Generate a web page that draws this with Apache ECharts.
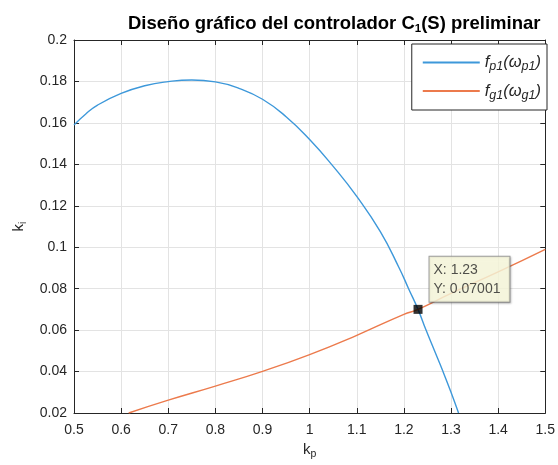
<!DOCTYPE html>
<html>
<head>
<meta charset="utf-8">
<script src="https://cdn.jsdelivr.net/npm/echarts@6/dist/echarts.min.js"></script>
<style>
  html, body { margin: 0; padding: 0; background: #ffffff; }
  #chart { width: 558px; height: 465px; }
</style>
</head>
<body>
<div id="chart"></div>
<script>
// f_p1(w_p1): k_i as a function of k_p on the phase condition
const fp1 = [
  [0.5, 0.1590], [0.525, 0.1643], [0.55, 0.1686], [0.6, 0.1742],
  [0.65, 0.1779], [0.7, 0.1799], [0.75, 0.1807], [0.8, 0.1798],
  [0.85, 0.1767], [0.9, 0.1714], [0.95, 0.1630], [1.0, 0.1520],
  [1.05, 0.1390], [1.1, 0.1245], [1.15, 0.1075],
  [1.19, 0.0900], [1.21, 0.0800], [1.23, 0.07001], [1.247, 0.0600],
  [1.265, 0.0500], [1.283, 0.0400], [1.30, 0.0300], [1.316, 0.0200]
];

// f_g1(w_g1): k_i as a function of k_p on the gain condition
const fg1 = [
  [0.616, 0.0200], [0.7, 0.0262], [0.8, 0.0330], [0.9, 0.0401],
  [1.0, 0.0482], [1.1, 0.0575], [1.2, 0.0676], [1.23, 0.07001],
  [1.3, 0.0777], [1.4, 0.0881], [1.5, 0.0990]
];

// intersection point shown with its data tip
const tipX = 1.23;
const tipY = 0.07001;

const xMin = 0.5, xMax = 1.5, xStep = 0.1;
const yMin = 0.02, yMax = 0.2, yStep = 0.02;

const FONT = '"Liberation Sans", Arial, Helvetica, sans-serif';
const INK = '#262626';
const GRIDC = '#e3e3e3';
const BLUE = '#3d98da';
const ORANGE = '#ec7a4c';

const chart = echarts.init(document.getElementById('chart'), null, { renderer: 'canvas' });

const boxAxis = (pos, showLabel) => ({
  type: 'value',
  position: pos,
  axisLine: { show: true, onZero: false, lineStyle: { color: INK, width: 1 } },
  axisTick: { show: true, inside: true, length: 5, lineStyle: { color: INK } },
  axisLabel: {
    show: showLabel, color: INK, fontFamily: FONT, fontSize: 14, margin: pos === 'bottom' ? 10 : 7
  },
  splitLine: { show: showLabel, lineStyle: { color: GRIDC, width: 1 } }
});

const option = {
  backgroundColor: '#ffffff',
  animation: false,
  title: {
    text: '{t|Diseño gráfico del controlador C}{s|1}{t|(S) preliminar}',
    left: 123,
    top: 8,
    textStyle: {
      rich: {
        t: { fontFamily: FONT, fontSize: 18.5, fontWeight: 'bold', color: '#000', lineHeight: 21 },
        s: { fontFamily: FONT, fontSize: 11.5, fontWeight: 'bold', color: '#000', padding: [10, 0, 0, 0] }
      }
    }
  },
  grid: { left: 74, right: 9, top: 40, bottom: 52, containLabel: false },
  xAxis: [
    Object.assign(boxAxis('bottom', true), {
      min: xMin, max: xMax, interval: xStep,
      name: '{k|k}{s|p}',
      nameLocation: 'middle',
      nameGap: 23,
      nameTextStyle: {
        rich: {
          k: { fontFamily: FONT, fontSize: 15, color: INK, lineHeight: 17 },
          s: { fontFamily: FONT, fontSize: 10.5, color: INK, padding: [9, 0, 0, 0] }
        }
      }
    }),
    Object.assign(boxAxis('top', false), { min: xMin, max: xMax, interval: xStep })
  ],
  yAxis: [
    Object.assign(boxAxis('left', true), {
      min: yMin, max: yMax, interval: yStep,
      name: '{k|k}{s|i}',
      nameLocation: 'middle',
      nameGap: 43,
      nameRotate: 90,
      nameTextStyle: {
        rich: {
          k: { fontFamily: FONT, fontSize: 15, color: INK, lineHeight: 17 },
          s: { fontFamily: FONT, fontSize: 10.5, color: INK, padding: [9, 0, 0, 0] }
        }
      }
    }),
    Object.assign(boxAxis('right', false), { min: yMin, max: yMax, interval: yStep })
  ],
  legend: {
    orient: 'vertical',
    right: 11,
    top: 44,
    padding: [10, 6, 8, 11],
    itemGap: 9,
    itemWidth: 57,
    itemHeight: 2,
    icon: 'rect',
    backgroundColor: '#ffffff',
    borderColor: INK,
    borderWidth: 1,
    selectedMode: false,
    data: ['fp1', 'fg1'],
    formatter: function (name) {
      const sub = name === 'fp1' ? 'p1' : 'g1';
      return '{f|f}{s|' + sub + '}{f|(ω}{s|' + sub + '}{f|)}';
    },
    textStyle: {
      rich: {
        f: { fontFamily: FONT, fontSize: 16.5, fontStyle: 'italic', color: INK, lineHeight: 20 },
        s: { fontFamily: FONT, fontSize: 12.5, fontStyle: 'italic', color: INK, padding: [9, 0, 0, 0] }
      }
    }
  },
  series: [
    {
      name: 'fp1',
      type: 'line',
      data: fp1,
      smooth: true,
      showSymbol: false,
      symbol: 'none',
      color: BLUE,
      lineStyle: { color: BLUE, width: 1.4 },
      z: 2
    },
    {
      name: 'fg1',
      type: 'line',
      data: fg1,
      smooth: true,
      showSymbol: false,
      symbol: 'none',
      color: ORANGE,
      lineStyle: { color: ORANGE, width: 1.4 },
      z: 2
    },
    {
      name: 'tip',
      type: 'scatter',
      data: [[tipX, tipY]],
      symbol: 'rect',
      symbolSize: 9,
      itemStyle: { color: '#000000' },
      z: 5,
      label: {
        show: true,
        position: [16, -48],
        align: 'left',
        verticalAlign: 'top',
        formatter: function (p) {
          return 'X: ' + p.value[0] + '\nY: ' + p.value[1].toFixed(5);
        },
        fontFamily: FONT,
        fontSize: 14,
        lineHeight: 19,
        color: INK,
        backgroundColor: '#ffffe1',
        borderColor: '#8a8a8a',
        borderWidth: 1,
        padding: [4, 9, 3, 4],
        shadowColor: 'rgba(0,0,0,0.25)',
        shadowBlur: 2,
        shadowOffsetX: 1,
        shadowOffsetY: 1
      }
    }
  ]
};

chart.setOption(option);
</script>
</body>
</html>
